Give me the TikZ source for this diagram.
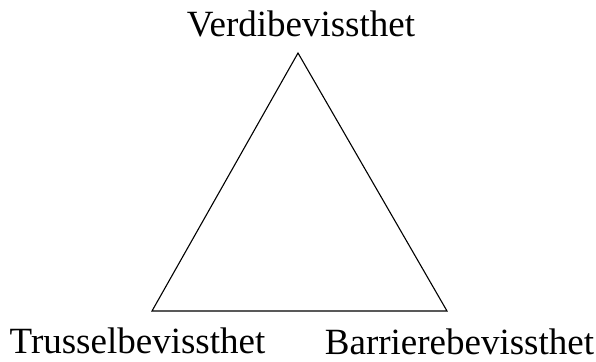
\documentclass[tikz,border=0pt]{standalone}
\usepackage{fontspec}
\setmainfont{Liberation Serif}
\usepackage{tikz}

\begin{document}
\begin{tikzpicture}[
  x=1pt, y=-1pt,
  label/.style={anchor=base, inner sep=0pt, font=\fontsize{37}{40}\selectfont},
  side/.style={draw=black, line width=1.1pt, line join=miter}
]
\useasboundingbox (0,0) rectangle (596,361);

% Corner labels
\node[label] (verdi) at (301, 37) {Verdibevissthet};
\node[label] (trussel) at (137.5, 353) {Trusselbevissthet};
\node[label] (barriere) at (459.5, 354) {Barrierebevissthet};

% Triangle corners
\coordinate (top) at (298, 53);
\coordinate (left) at (152, 311);
\coordinate (right) at (447, 311);

% The triangle
\draw[side] (top) -- (left) -- (right) -- cycle;
\end{tikzpicture}
\end{document}
